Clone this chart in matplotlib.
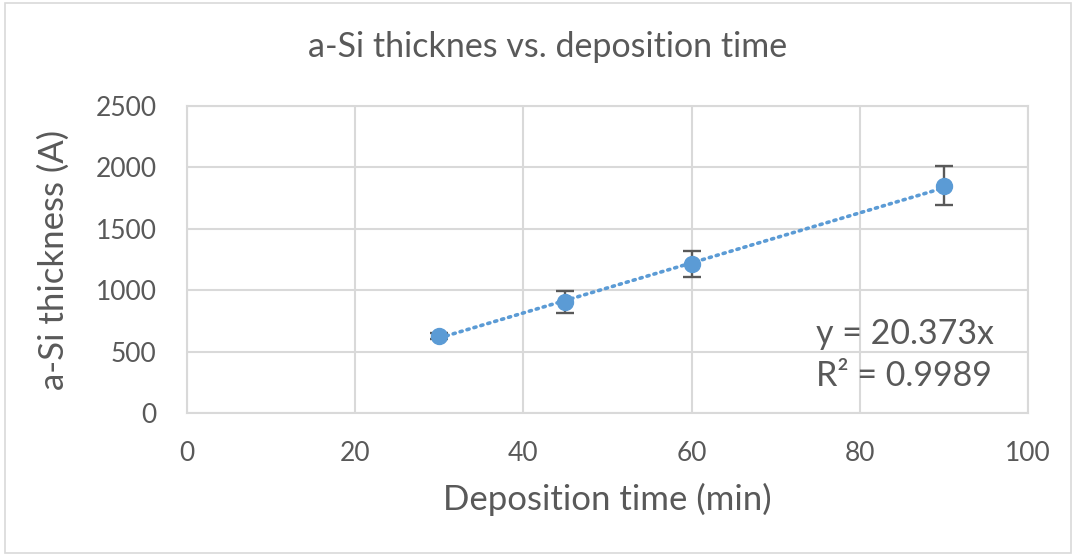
import matplotlib.pyplot as plt
import numpy as np

# deposition runs
times = [30, 45, 60, 90]
thickness = [628, 905, 1215, 1850]
thickness_err = [25, 90, 105, 160]

# linear fit through the origin
slope = 20.373
r_squared = 0.9989

x_ticks = [0, 20, 40, 60, 80, 100]
y_ticks = [0, 500, 1000, 1500, 2000, 2500]

plt.rcParams['font.family'] = ['Lato', 'DejaVu Sans']
textColor = '#595959'
gridColor = '#D9D9D9'
pointColor = '#5B9BD5'

figure = plt.figure(figsize=(10.76, 5.56), dpi=100)
axis = figure.add_axes([0.1738, 0.2572, 0.7816, 0.5522])

fitX = np.array([min(times), max(times)])
axis.plot(fitX, slope * fitX, linestyle=(0, (0.6, 1.4)), dash_capstyle='round',
          color=pointColor, linewidth=2.6, zorder=3)

axis.errorbar(times, thickness, yerr=thickness_err, fmt='o', color=pointColor,
              markersize=11.5, ecolor='#595959', elinewidth=1.7, capsize=6.5,
              capthick=1.7, zorder=4)

axis.set_xlim(0, 100)
axis.set_ylim(0, 2500)
axis.set_xticks(x_ticks)
axis.set_yticks(y_ticks)
axis.tick_params(length=0, labelsize=19, labelcolor=textColor)
axis.tick_params(axis='x', pad=20)
axis.tick_params(axis='y', pad=22)
axis.grid(True, color=gridColor, linewidth=1.5)
axis.set_axisbelow(True)
for side in axis.spines.values():
  side.set_color(gridColor)
  side.set_linewidth(1.5)

figure.text(0.5085, 0.915, 'a-Si thicknes vs. deposition time', fontsize=24.5,
            color=textColor, ha='center', va='center')
axis.set_xlabel('Deposition time (min)', fontsize=25, color=textColor, labelpad=12)
axis.set_ylabel('a-Si thickness (A)', fontsize=25, color=textColor, labelpad=18)

axis.text(74.8, 470, f'y = {slope}x\nR² = {r_squared}', fontsize=24.5,
          color=textColor, va='center', ha='left', linespacing=1.4)

# chart area border
figure.patches.append(plt.Rectangle((0.005, 0.005), 0.99, 0.99,
                                    transform=figure.transFigure, fill=False,
                                    edgecolor=gridColor, linewidth=1.2))

plt.savefig('out.png', dpi=100)
